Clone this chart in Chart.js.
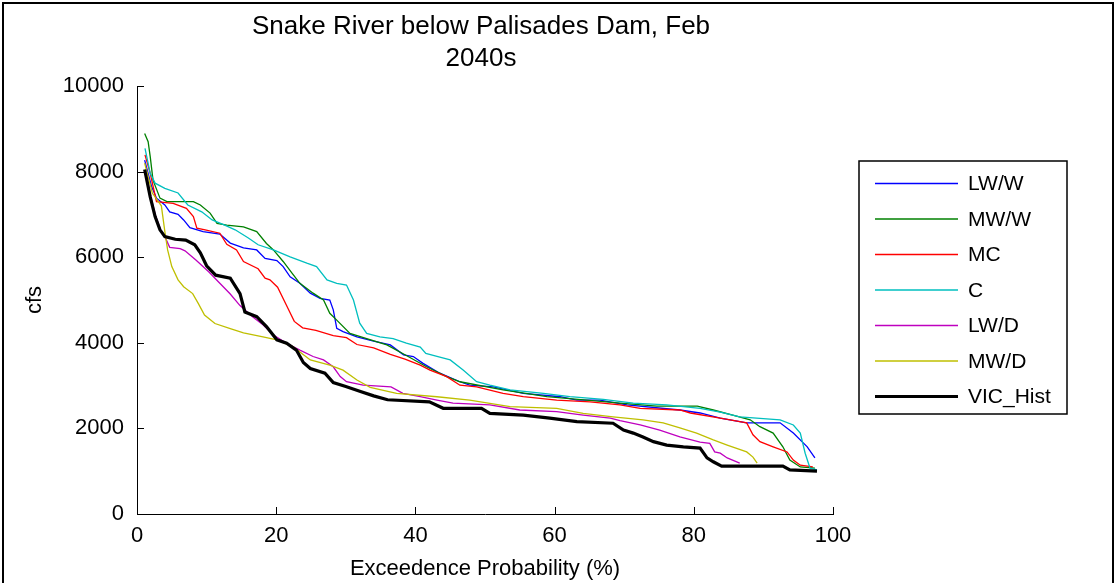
<!DOCTYPE html>
<html><head><meta charset="utf-8">
<script src="https://cdn.jsdelivr.net/npm/chart.js@4.4.1/dist/chart.umd.min.js"></script>
<style>html,body{margin:0;padding:0;background:#fff;overflow:hidden}#wrap{width:1119px;height:583px;position:relative}</style>
</head><body><div id="wrap"><canvas id="c" width="1119" height="583"></canvas></div>
<script>
const titleLines = ['Snake River below Palisades Dam, Feb', '2040s'];
const xTitle = 'Exceedence Probability (%)';
const yTitle = 'cfs';
const xTickValues = [0, 20, 40, 60, 80, 100];
const yTickValues = [0, 2000, 4000, 6000, 8000, 10000];
const seriesNames = ['LW/W', 'MW/W', 'MC', 'C', 'LW/D', 'MW/D', 'VIC_Hist'];
const seriesColors = ['#0000ff', '#008000', '#ff0000', '#00bfbf', '#bf00bf', '#bfbf00', '#000000'];

// LW/W
const lwwP = [1.1,2.1,2.8,4,4.7,5.9,6.7,7.6,9.5,11.9,13.4,15.3,17.2,18.4,20.1,21,22,23.4,24.9,26.3,27.7,28.2,28.7,29.6,31.6,34,36.4,38.3,39.7,41.1,43.5,46.4,47.8,51.2,55.5,60.8,63.2,66.5,70.4,78,80.9,83.8,87.6,92.4,94.3,96.3,97.4];
const lwwQ = [8270,7650,7380,7220,7060,7000,6870,6690,6600,6540,6330,6220,6170,5970,5920,5780,5540,5390,5160,5040,5000,4770,4340,4260,4140,4040,3950,3720,3680,3520,3290,3090,3010,2970,2820,2740,2660,2660,2550,2430,2360,2240,2130,2130,1890,1570,1310];
// MW/W
const mwwP = [1.1,1.6,1.9,2.3,3.3,4.3,8.1,9.1,10.5,11.5,12.9,15.3,17.2,18.6,19.6,21,22.3,23.4,25.3,26.8,27.7,28.7,30.6,33,35.9,38.5,41.6,44.5,46.4,52.6,58.9,64.6,69.4,74.7,80.5,82.8,85.6,88.1,89.5,91.4,92.8,93.8,95.3,97.4];
const mwwQ = [8890,8700,8350,7800,7380,7300,7300,7220,7030,6790,6750,6710,6600,6320,6170,5900,5620,5390,5160,5000,4690,4530,4220,4100,3950,3720,3440,3210,3090,2900,2740,2660,2590,2520,2520,2430,2310,2200,2040,1890,1570,1260,1100,1070];
// MC
const mcP = [1.15,1.9,2.8,5.2,7.1,8.1,8.6,9.8,11.9,12.9,14.3,15.3,17.4,18.4,19.1,20.2,21.4,22.6,23.8,25.7,28.2,30.1,31.6,34,36.4,38.5,40.7,42.1,44.5,46.4,48.8,52.6,55.5,60.3,65.1,69.4,72.3,78,79.5,83.8,87.6,88.5,89.5,91.4,93.4,94.3,95.3,97.1];
const mcQ = [8390,7960,7300,7260,7140,6950,6680,6640,6560,6300,6170,5900,5730,5510,5470,5300,4900,4500,4350,4290,4170,4120,3960,3880,3730,3620,3480,3360,3210,3010,2970,2820,2740,2660,2620,2550,2470,2430,2360,2240,2130,1850,1690,1570,1450,1260,1140,1100];
// C
const cP = [1.15,1.9,2.6,4,5.9,7.3,9.3,10.8,12.6,14.1,16,17.4,19.6,22,24.4,25.8,27.3,28.7,30.1,31.1,32,33,34.9,36.8,38.7,40.7,41.5,43.1,45,46.9,48.8,50.7,53.6,58.4,62.2,67,71.3,76.1,80.9,83.8,86.6,92.4,94.3,95.3,96,96.7,97.7];
const cQ = [8540,7960,7730,7610,7500,7220,7060,6870,6750,6640,6450,6290,6170,6010,5860,5780,5470,5390,5350,5000,4460,4220,4140,4100,3990,3900,3750,3680,3600,3360,3090,3010,2900,2820,2740,2680,2590,2550,2470,2380,2270,2200,2080,1890,1420,1070,1030];
// LW/D
const lwdP = [1.3,2,2.7,3.4,4,4.7,6.2,6.9,8.5,10.3,11.9,13.4,14.8,16.6,18.1,19.6,21.5,23.4,25.3,26.8,28.2,29.2,30.1,32.5,36.5,38.2,40.7,43.1,45.4,50.7,55,60.3,64.1,68,69.4,72.3,75.1,78,80.9,82.3,83,83.8,84.8,86.6];
const lwdQ = [7950,7400,6950,6640,6480,6230,6200,6150,5930,5660,5390,5140,4870,4610,4420,4180,3990,3830,3680,3600,3440,3210,3090,3010,2970,2820,2740,2660,2590,2550,2430,2390,2310,2240,2180,2080,1960,1800,1680,1650,1450,1420,1310,1190];
// MW/D
const mwdP = [1.1,2.2,3.5,4,4.4,5,5.9,6.7,8,8.8,9.7,11.2,13.4,15.3,18.1,20.1,22.4,24.9,27.7,29.6,31.6,33.5,37.3,43.1,47.8,53.6,60.3,64.1,68.4,72.7,75.6,78,80.4,82.8,84.8,87.6,88.5,89.1];
const mwdQ = [8200,7500,7200,6600,6170,5780,5470,5310,5150,4920,4650,4450,4330,4230,4140,4070,3910,3600,3480,3360,3130,2960,2820,2740,2660,2510,2470,2350,2270,2200,2130,2010,1890,1730,1610,1450,1330,1190];
// VIC_Hist
const vicP = [1.1,1.9,2.6,3.3,4,5.5,7,8.3,9.1,10,11.3,13.4,14.8,15.5,17.2,18.6,20.1,21.5,22.9,23.9,24.9,27,28.2,30,32,34,36,42,44,49.5,50.7,55.5,59.3,63.2,68.4,69.9,71.3,72.7,74.2,76.1,78.5,80.9,81.9,82.8,84,92.8,93.8,97.7];
const vicQ = [8050,7410,6950,6640,6480,6420,6400,6290,6100,5800,5580,5510,5150,4720,4610,4380,4070,3990,3830,3540,3400,3290,3070,2980,2870,2760,2670,2620,2470,2470,2350,2310,2240,2160,2120,1960,1890,1800,1690,1610,1570,1540,1310,1220,1120,1120,1030,1000];

const seriesP = [lwwP, mwwP, mcP, cP, lwdP, mwdP, vicP];
const seriesQ = [lwwQ, mwwQ, mcQ, cQ, lwdQ, mwdQ, vicQ];

const FONT = "'Liberation Sans', Arial, Helvetica, sans-serif";

const datasets = seriesNames.map((name, i) => ({
  label: name,
  data: seriesP[i].map((p, j) => ({x: p, y: seriesQ[i][j]})),
  borderColor: seriesColors[i],
  backgroundColor: seriesColors[i],
  borderWidth: name === 'VIC_Hist' ? 3.2 : 1.3,
  pointRadius: 0,
  tension: 0,
  fill: false,
  order: seriesNames.length - i
}));

const decorPlugin = {
  id: 'decor',
  afterDraw(chart) {
    const ctx = chart.ctx;
    const a = chart.chartArea;
    ctx.save();
    // outer frame
    ctx.strokeStyle = '#000';
    ctx.lineWidth = 2;
    ctx.beginPath();
    ctx.moveTo(3, 600); ctx.lineTo(3, 3); ctx.lineTo(1113, 3); ctx.lineTo(1113, 600);
    ctx.stroke();
    // inward ticks
    ctx.lineWidth = 1;
    const xs = chart.scales.x, ys = chart.scales.y;
    xs.ticks.forEach(t => {
      const px = Math.round(xs.getPixelForValue(t.value)) + 0.5;
      ctx.beginPath(); ctx.moveTo(px, a.bottom); ctx.lineTo(px, a.bottom - 7); ctx.stroke();
    });
    ys.ticks.forEach(t => {
      const py = Math.round(ys.getPixelForValue(t.value)) + 0.5;
      ctx.beginPath(); ctx.moveTo(a.left, py); ctx.lineTo(a.left + 7, py); ctx.stroke();
    });
    // title
    ctx.fillStyle = '#000';
    ctx.font = '26px ' + FONT;
    ctx.textAlign = 'center';
    ctx.textBaseline = 'middle';
    ctx.fillText(titleLines[0], (a.left + a.right) / 2 - 4, 27);
    ctx.fillText(titleLines[1], (a.left + a.right) / 2 - 4, 59);
    // legend
    const lx = 859, ly = 161, lw = 208, lh = 253;
    ctx.fillStyle = '#fff';
    ctx.fillRect(lx, ly, lw, lh);
    ctx.strokeStyle = '#000';
    ctx.lineWidth = 1.5;
    ctx.strokeRect(lx, ly, lw, lh);
    ctx.font = '21px ' + FONT;
    ctx.textAlign = 'left';
    ctx.textBaseline = 'middle';
    chart.data.datasets.forEach((ds, i) => {
      const y = 183.5 + i * 35.5;
      ctx.strokeStyle = ds.borderColor;
      ctx.lineWidth = ds.borderWidth;
      ctx.beginPath(); ctx.moveTo(875, y); ctx.lineTo(958, y); ctx.stroke();
      ctx.fillStyle = '#000';
      ctx.fillText(ds.label, 968, y + 1);
    });
    ctx.restore();
  }
};

new Chart(document.getElementById('c'), {
  type: 'line',
  data: { datasets },
  options: {
    responsive: false,
    animation: false,
    devicePixelRatio: 1,
    layout: { padding: { left: 0, right: 286, top: 86, bottom: 0 } },
    plugins: { legend: { display: false }, title: { display: false }, tooltip: { enabled: false } },
    scales: {
      x: {
        type: 'linear', min: 0, max: 100,
        afterBuildTicks: s => { s.ticks = xTickValues.map(v => ({value: v})); },
        afterFit: s => { s.height = 69; },
        grid: { display: false },
        border: { display: true, color: '#000', width: 1 },
        ticks: { color: '#000', font: { size: 22, family: FONT }, padding: 1, maxRotation: 0, callback: v => String(v) },
        title: { display: true, text: xTitle, color: '#000', font: { size: 22, family: FONT }, padding: { bottom: 1 } }
      },
      y: {
        type: 'linear', min: 0, max: 10000,
        afterBuildTicks: s => { s.ticks = yTickValues.map(v => ({value: v})); },
        afterFit: s => { s.width = 137; },
        grid: { display: false },
        border: { display: true, color: '#000', width: 1 },
        ticks: { color: '#000', font: { size: 22, family: FONT }, padding: 5, callback: v => String(v) },
        title: { display: true, text: yTitle, color: '#000', font: { size: 22, family: FONT }, padding: { top: 22 } }
      }
    }
  },
  plugins: [decorPlugin]
});
</script></body></html>
